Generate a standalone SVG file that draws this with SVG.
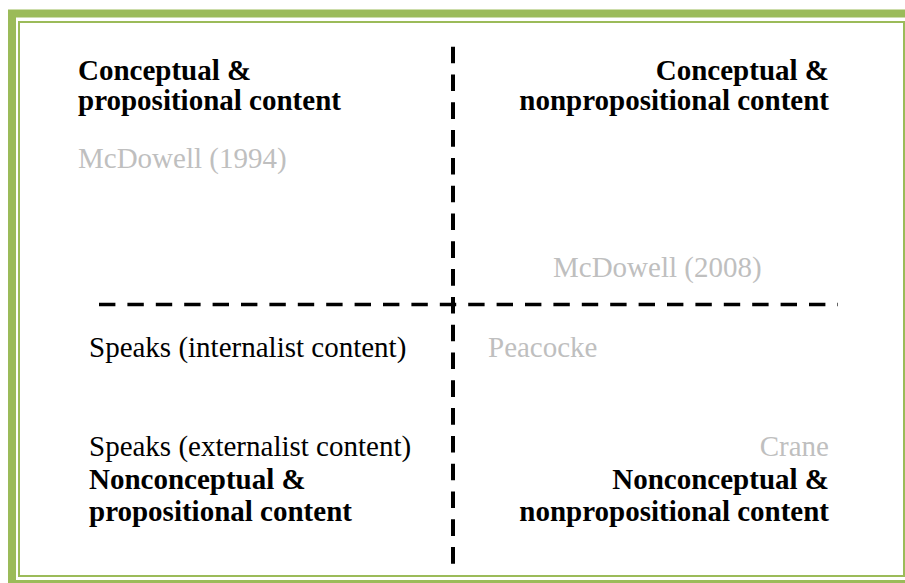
<svg xmlns="http://www.w3.org/2000/svg" width="905" height="583" viewBox="0 0 905 583">
<style>
.t{font-family:"Liberation Serif","Times New Roman",serif;font-size:29px;fill:#000}
.b{font-weight:bold}
.g{fill:#bfbfbf}
.e{text-anchor:end}
.frame{fill:none;stroke:#9bbb59}
.dash{stroke:#000;fill:none}
</style>
<rect width="905" height="583" fill="#fff"/>
<g id="frame">
<rect class="frame" x="12" y="13.5" width="900" height="570.5" stroke-width="8"/>
<rect class="frame" x="19" y="22" width="885" height="554" stroke-width="2"/>
</g>
<g id="connectors">
<line class="dash" x1="453" y1="46.7" x2="453" y2="564" stroke-width="4" stroke-dasharray="16.6 11.2"/>
<line class="dash" x1="99" y1="304.5" x2="838" y2="304.5" stroke-width="3.5" stroke-dasharray="16.4 12"/>
</g>
<g id="q1">
<text class="t b" x="78" y="80">Conceptual &amp;</text>
<text class="t b" x="78" y="110">propositional content</text>
<text class="t g" x="78" y="168">McDowell (1994)</text>
</g>
<g id="q2">
<text class="t b e" x="829" y="80">Conceptual &amp;</text>
<text class="t b e" x="829" y="110">nonpropositional content</text>
<text class="t g" x="553" y="277">McDowell (2008)</text>
</g>
<g id="q3">
<text class="t" x="89" y="357">Speaks (internalist content)</text>
<text class="t" x="89" y="456">Speaks (externalist content)</text>
<text class="t b" x="89" y="489">Nonconceptual &amp;</text>
<text class="t b" x="89" y="521">propositional content</text>
</g>
<g id="q4">
<text class="t g" x="488" y="357">Peacocke</text>
<text class="t g e" x="829" y="456">Crane</text>
<text class="t b e" x="829" y="489">Nonconceptual &amp;</text>
<text class="t b e" x="829" y="521">nonpropositional content</text>
</g>
</svg>
